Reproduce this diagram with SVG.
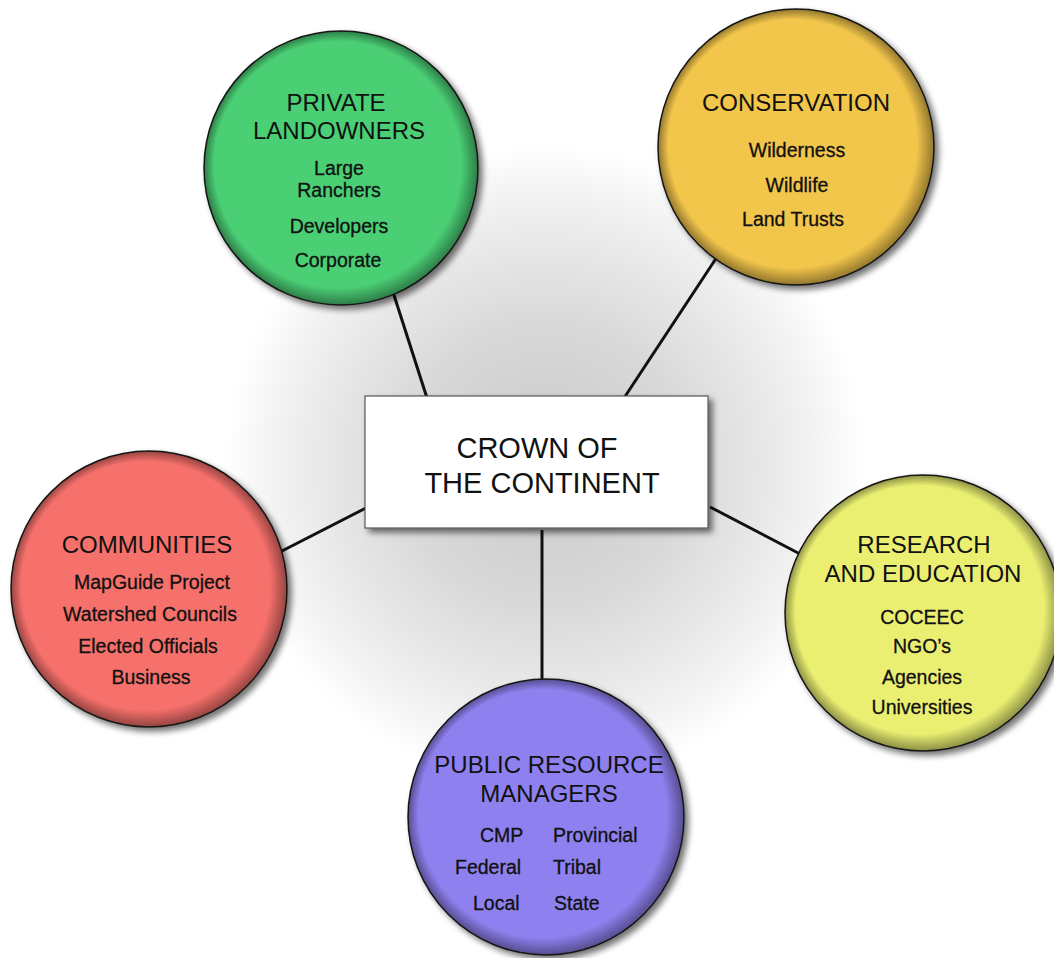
<svg xmlns="http://www.w3.org/2000/svg" width="1054" height="958" viewBox="0 0 1054 958">
<defs>
  <style>
    .title { font-family: "Liberation Sans", Arial, sans-serif; font-size: 24px; fill: #111; text-anchor: middle; }
    .item { font-family: "Liberation Sans", Arial, sans-serif; font-size: 19.5px; fill: #111; text-anchor: middle; stroke: #111; stroke-width: 0.3px; }
    .itemL { font-family: "Liberation Sans", Arial, sans-serif; font-size: 19.5px; fill: #111; stroke: #111; stroke-width: 0.3px; }
    .center { font-family: "Liberation Sans", Arial, sans-serif; font-size: 29px; fill: #111; text-anchor: middle; }
    .node { stroke: #1a1a1a; stroke-width: 1.5; filter: url(#shadow); }
    .bevel { fill: url(#bevel); stroke: none; }
    .conn { stroke: #111; stroke-width: 3; fill: none; }
  </style>
  <radialGradient id="glow" cx="0.5" cy="0.5" r="0.5">
    <stop offset="0" stop-color="#c8c8c8"/>
    <stop offset="0.45" stop-color="#d9d9d9"/>
    <stop offset="0.8" stop-color="#efefef"/>
    <stop offset="1" stop-color="#ffffff"/>
  </radialGradient>
  <radialGradient id="bevel" cx="0.5" cy="0.5" r="0.5" fx="0.38" fy="0.38">
    <stop offset="0" stop-color="#000" stop-opacity="0"/>
    <stop offset="0.9" stop-color="#000" stop-opacity="0"/>
    <stop offset="1" stop-color="#000" stop-opacity="0.4"/>
  </radialGradient>
  <filter id="shadow" x="-20%" y="-20%" width="150%" height="150%">
    <feGaussianBlur in="SourceAlpha" stdDeviation="3"/>
    <feOffset dx="4" dy="4" result="b"/>
    <feComponentTransfer><feFuncA type="linear" slope="0.55"/></feComponentTransfer>
    <feMerge><feMergeNode/><feMergeNode in="SourceGraphic"/></feMerge>
  </filter>
</defs>
<rect width="1054" height="958" fill="#ffffff"/>
<circle cx="545" cy="465" r="320" fill="url(#glow)"/>

<g id="connectors">
  <line class="conn" x1="393" y1="292" x2="427" y2="398"/>
  <line class="conn" x1="717" y1="257" x2="624" y2="398"/>
  <line class="conn" x1="280" y1="552" x2="366" y2="508"/>
  <line class="conn" x1="710" y1="507" x2="802" y2="555"/>
  <line class="conn" x1="542" y1="530" x2="542" y2="682"/>
</g>

<g id="center-node">
  <rect x="365" y="396" width="343" height="132" fill="#ffffff" stroke="#555" stroke-width="1.2" filter="url(#shadow)"/>
  <text class="center" x="537" y="458">CROWN OF</text>
  <text class="center" x="542" y="493">THE CONTINENT</text>
</g>

<g id="private-landowners">
  <circle class="node" cx="341" cy="168" r="137" fill="#4ccf74"/>
  <circle class="bevel" cx="341" cy="168" r="137"/>
  <text class="title" x="336" y="111">PRIVATE</text>
  <text class="title" x="339" y="139">LANDOWNERS</text>
  <text class="item" x="339" y="175">Large</text>
  <text class="item" x="339" y="197">Ranchers</text>
  <text class="item" x="339" y="233">Developers</text>
  <text class="item" x="338" y="267">Corporate</text>
</g>

<g id="conservation">
  <circle class="node" cx="796" cy="147" r="138" fill="#f2c54c"/>
  <circle class="bevel" cx="796" cy="147" r="138"/>
  <text class="title" x="796" y="111">CONSERVATION</text>
  <text class="item" x="797" y="157">Wilderness</text>
  <text class="item" x="797" y="192">Wildlife</text>
  <text class="item" x="793" y="226">Land Trusts</text>
</g>

<g id="communities">
  <circle class="node" cx="149" cy="589" r="138" fill="#f7716c"/>
  <circle class="bevel" cx="149" cy="589" r="138"/>
  <text class="title" x="147" y="553">COMMUNITIES</text>
  <text class="item" x="152" y="589">MapGuide Project</text>
  <text class="item" x="150" y="621">Watershed Councils</text>
  <text class="item" x="148" y="653">Elected Officials</text>
  <text class="item" x="151" y="684">Business</text>
</g>

<g id="research-education">
  <circle class="node" cx="923" cy="613" r="138" fill="#eaef72"/>
  <circle class="bevel" cx="923" cy="613" r="138"/>
  <text class="title" x="924" y="553">RESEARCH</text>
  <text class="title" x="923" y="582">AND EDUCATION</text>
  <text class="item" x="922" y="624">COCEEC</text>
  <text class="item" x="922" y="653">NGO’s</text>
  <text class="item" x="922" y="684">Agencies</text>
  <text class="item" x="922" y="714">Universities</text>
</g>

<g id="public-resource-managers">
  <circle class="node" cx="546" cy="817" r="138" fill="#8e80ee"/>
  <circle class="bevel" cx="546" cy="817" r="138"/>
  <text class="title" x="549" y="773">PUBLIC RESOURCE</text>
  <text class="title" x="549" y="802">MANAGERS</text>
  <text class="itemL" x="480" y="842">CMP</text>
  <text class="itemL" x="553" y="842">Provincial</text>
  <text class="itemL" x="455" y="874">Federal</text>
  <text class="itemL" x="553" y="874">Tribal</text>
  <text class="itemL" x="473" y="910">Local</text>
  <text class="itemL" x="554" y="910">State</text>
</g>
</svg>
